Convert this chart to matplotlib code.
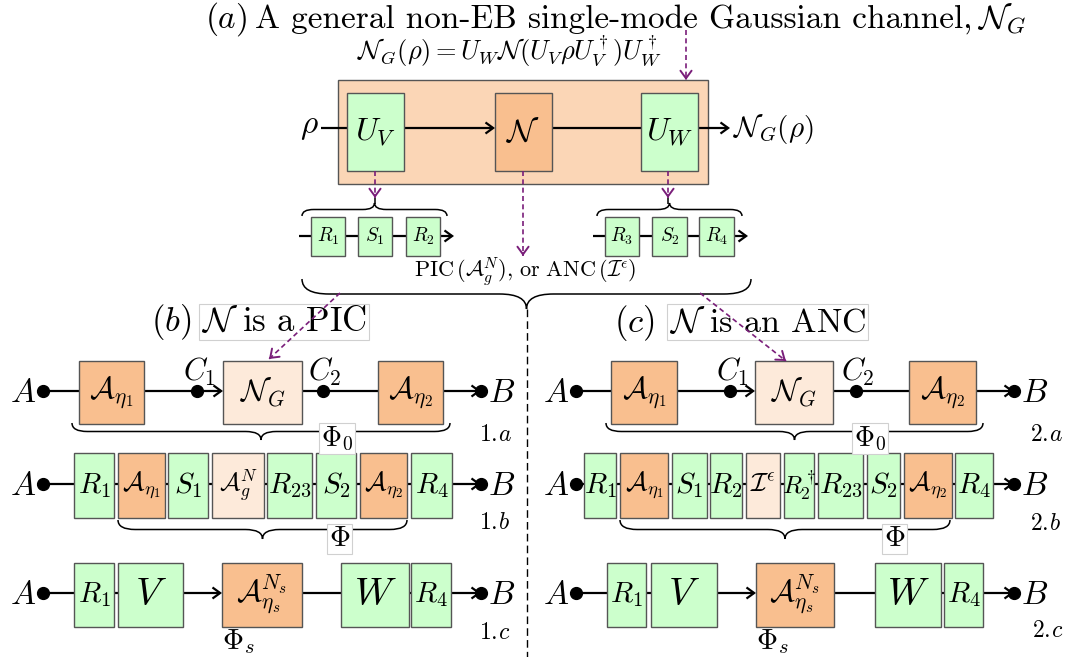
import matplotlib
matplotlib.use('Agg')
import matplotlib.pyplot as plt
from matplotlib.patches import Rectangle, FancyArrowPatch, PathPatch
from matplotlib.path import Path

plt.rcParams['mathtext.fontset'] = 'cm'
plt.rcParams['font.family'] = 'cmr10'
plt.rcParams['axes.formatter.use_mathtext'] = True

# ---------------- text / label data ----------------
title_parts = [r'$(a)$', 'A general non-EB single-mode Gaussian channel,', r'$\mathcal{N}_G$']
formula = r'$\mathcal{N}_G(\rho) = U_W\mathcal{N}(U_V\rho U_V^\dagger)U_W^\dagger$'
top_labels = [r'$U_V$', r'$\mathcal{N}$', r'$U_W$']
top_kinds = ['g', 'o', 'g']
input_label = r'$\rho$'
output_label = r'$\mathcal{N}_G(\rho)$'
sub_left_labels = [r'$R_1$', r'$S_1$', r'$R_2$']
sub_right_labels = [r'$R_3$', r'$S_2$', r'$R_4$']
choice_text = r'$\mathrm{PIC}\,(\mathcal{A}_g^N),\,\mathrm{or\ ANC}\,(\mathcal{I}^\epsilon)$'
panel_tags = [r'$(b)$', r'$(c)$']
panel_titles = [r'$\mathcal{N}$ is a PIC', r'$\mathcal{N}$ is an ANC']

row_a_labels = [r'$\mathcal{A}_{\eta_1}$', r'$\mathcal{N}_G$', r'$\mathcal{A}_{\eta_2}$']
row_a_kinds = ['o', 'l', 'o']
row_b_left_labels = [r'$R_1$', r'$\mathcal{A}_{\eta_1}$', r'$S_1$', r'$\mathcal{A}_g^N$',
                     r'$R_{23}$', r'$S_2$', r'$\mathcal{A}_{\eta_2}$', r'$R_4$']
row_b_left_kinds = ['g', 'o', 'g', 'l', 'g', 'g', 'o', 'g']
row_b_right_labels = [r'$R_1$', r'$\mathcal{A}_{\eta_1}$', r'$S_1$', r'$R_2$', r'$\mathcal{I}^\epsilon$',
                      r'$R_2^\dagger$', r'$R_{23}$', r'$S_2$', r'$\mathcal{A}_{\eta_2}$', r'$R_4$']
row_b_right_kinds = ['g', 'o', 'g', 'g', 'l', 'g', 'g', 'g', 'o', 'g']
row_c_labels = [r'$R_1$', r'$V$', r'$\mathcal{A}_{\eta_s}^{N_s}$', r'$W$', r'$R_4$']
row_c_kinds = ['g', 'g', 'o', 'g', 'g']
brace_labels = [r'$\Phi_0$', r'$\Phi$', r'$\Phi_s$']
row_tags_left = [r'$1.\!a$', r'$1.\!b$', r'$1.\!c$']
row_tags_right = [r'$2.\!a$', r'$2.\!b$', r'$2.\!c$']

# ---------------- layout (pixels) ----------------
W, H = 1075, 657
COLORS = {'g': '#CCFFCC', 'o': '#F9BF8F', 'l': '#FDEADA'}
BIGBOX = '#FBD6B6'
EDGE = '#555555'
PURPLE = '#7A1E7A'

fig = plt.figure(figsize=(W / 100, H / 100), dpi=100)
ax = fig.add_axes([0, 0, 1, 1])
ax.set_xlim(0, W)
ax.set_ylim(H, 0)
ax.axis('off')
renderer = fig.canvas.get_renderer()


def box(x0, x1, y0, y1, label, fc, fs, ec=EDGE, z=3):
    ax.add_patch(Rectangle((x0, y0), x1 - x0, y1 - y0, fc=fc, ec=ec, lw=1.0, zorder=z))
    if label:
        ax.text((x0 + x1) / 2, (y0 + y1) / 2, label, fontsize=fs, ha='center', va='center', zorder=z + 1)


def line(x0, y0, x1, y1, lw=1.6, color='k', z=2):
    ax.plot([x0, x1], [y0, y1], color=color, lw=lw, zorder=z, solid_capstyle='butt')


def arrow(x0, y0, x1, y1, lw=1.6, color='k', z=2):
    ax.add_patch(FancyArrowPatch((x0, y0), (x1, y1), arrowstyle='->,head_length=0.55,head_width=0.4',
                                 mutation_scale=10, lw=lw, color=color, shrinkA=0, shrinkB=0,
                                 zorder=z, joinstyle='miter', capstyle='butt'))


def purple_arrow(x0, y0, x1, y1):
    ax.plot([x0, x1], [y0, y1], color=PURPLE, lw=1.2, ls=(0, (3, 2)), zorder=8)
    dx, dy = x1 - x0, y1 - y0
    n = (dx * dx + dy * dy) ** 0.5
    ax.add_patch(FancyArrowPatch((x1 - dx / n * 3, y1 - dy / n * 3), (x1, y1),
                                 arrowstyle='->,head_length=0.55,head_width=0.4', mutation_scale=10,
                                 lw=1.4, color=PURPLE, shrinkA=0, shrinkB=0, zorder=8))


def dot(x, y):
    ax.plot([x], [y], 'o', ms=8.5, color='k', zorder=5)


def brace(x0, x1, y, h, lw=1.1):
    xm = (x0 + x1) / 2
    a = abs(h) * 0.9
    ym = y + h / 2
    yt = y + h
    verts = [(x0, y), (x0, ym), (x0 + a, ym), (xm - a, ym), (xm, ym), (xm, yt),
             (xm, ym), (xm + a, ym), (x1 - a, ym), (x1, ym), (x1, y)]
    codes = [Path.MOVETO, Path.CURVE3, Path.CURVE3, Path.LINETO, Path.CURVE3, Path.CURVE3,
             Path.CURVE3, Path.CURVE3, Path.LINETO, Path.CURVE3, Path.CURVE3]
    ax.add_patch(PathPatch(Path(verts, codes), fc='none', ec='k', lw=lw, zorder=2))


def label_box(x, y, s, fs, ha='left'):
    ax.text(x, y, s, fontsize=fs, ha=ha, va='baseline', zorder=7,
            bbox=dict(boxstyle='square,pad=0.06', fc='white', ec='#D0D0D0', lw=0.8))


# ---------------- (a) title ----------------
x = 205
for part, gap in zip(title_parts, [8, 4, 0]):
    t = ax.text(x, 28, part, fontsize=24, ha='left', va='baseline')
    x += t.get_window_extent(renderer).width + gap

ax.text(357, 60, formula, fontsize=19, ha='left', va='baseline')
purple_arrow(686, 30, 686, 80)

# big box
box(338, 708, 80, 184, None, BIGBOX, 0, z=1)
top_x = [(347, 404), (495, 552), (641, 698)]
for (x0, x1), lab, k in zip(top_x, top_labels, top_kinds):
    box(x0, x1, 93, 171, lab, COLORS[k], 23)
ly = 128
ax.text(319, 133, input_label, fontsize=24, ha='right', va='baseline')
line(321, ly, 347, ly)
arrow(404, ly, 495, ly)
line(552, ly, 641, ly)
arrow(698, ly, 730, ly)
ax.text(733, 137, output_label, fontsize=21, ha='left', va='baseline')

purple_arrow(375, 171, 375, 198)
purple_arrow(523, 171, 523, 256)
purple_arrow(668, 171, 668, 198)

# sub chains
sub_left_x = [(311, 345), (358, 392), (406, 440)]
sub_right_x = [(605, 639), (652, 687), (699, 734)]
arrow(299, 236, 454, 236)
arrow(593, 236, 748, 236)
for (x0, x1), lab in zip(sub_left_x, sub_left_labels):
    box(x0, x1, 217, 256, lab, COLORS['g'], 14)
for (x0, x1), lab in zip(sub_right_x, sub_right_labels):
    box(x0, x1, 217, 256, lab, COLORS['g'], 14)
brace(302, 447, 216, -13)
brace(597, 742, 216, -13)
line(375, 198, 375, 204, lw=1.1)
line(668, 198, 668, 204, lw=1.1)
ax.text(525, 277, choice_text, fontsize=16, ha='center', va='baseline')
brace(302, 751, 279, 30)

# divider
ax.plot([527, 527], [309, 657], color='k', lw=1.0, ls=(0, (5.5, 3)), zorder=1)

# panel titles
ax.text(192, 331, panel_tags[0], fontsize=25, ha='right', va='baseline')
label_box(201, 331, panel_titles[0], 25)
ax.text(655, 332, panel_tags[1], fontsize=25, ha='right', va='baseline')
label_box(669, 332, panel_titles[1], 24.5)
purple_arrow(340, 293, 269, 359)
purple_arrow(700, 293, 786, 361)


# ---------------- row a ----------------
def row_a(dotA, boxes, c1, c2, dotB, brace_x, phix):
    y = 391
    ax.text(dotA - 7, y + 11, r'$A$', fontsize=24, ha='right', va='baseline')
    ax.text(dotB + 7, y + 11, r'$B$', fontsize=24, ha='left', va='baseline')
    (a0, a1), (n0, n1), (b0, b1) = boxes
    line(dotA, y, a0, y)
    line(a1, y, c1, y)
    arrow(c1, y, n0, y)
    line(n1, y, b0, y)
    arrow(b1, y, dotB, y)
    for (x0, x1), lab, k in zip(boxes, row_a_labels, row_a_kinds):
        box(x0, x1, 361, 424, lab, COLORS[k], 22)
    for xx in (dotA, c1, c2, dotB):
        dot(xx, y)
    ax.text(c1 + 2, 381, r'$C_1$', fontsize=22, ha='center', va='baseline')
    ax.text(c2 + 2, 381, r'$C_2$', fontsize=22, ha='center', va='baseline')
    brace(brace_x[0], brace_x[1], 423, 17)
    label_box(phix, 446, brace_labels[0], 20)


row_a(43, [(79, 144), (223, 302), (378, 443)], 197, 323, 481, (72, 450), 321)
ax.text(479, 441, row_tags_left[0], fontsize=17, ha='left', va='baseline')
row_a(576, [(611, 677), (755, 833), (909, 976)], 730, 856, 1014, (606, 983), 854)
ax.text(1030, 441, row_tags_right[0], fontsize=17, ha='left', va='baseline')

# ---------------- row b ----------------
yb = 484
b_left_x = [(74, 114), (118, 165), (168, 208), (212, 264), (267, 312), (316, 356), (360, 407), (411, 452)]
b_right_x = [(584, 616), (620, 668), (672, 707), (710, 742), (746, 780), (784, 814), (818, 863),
             (867, 900), (904, 952), (955, 993)]


def chain(xs, labels, kinds, y, y0, y1, dotA, dotB, sizes):
    ax.text(dotA - 7, y + 11, r'$A$', fontsize=24, ha='right', va='baseline')
    ax.text(dotB + 7, y + 11, r'$B$', fontsize=24, ha='left', va='baseline')
    line(dotA, y, xs[-1][0], y, z=1)
    arrow(xs[-1][1], y, dotB, y)
    for (x0, x1), lab, k, fs in zip(xs, labels, kinds, sizes):
        box(x0, x1, y0, y1, lab, COLORS[k], fs)
    dot(dotA, y)
    dot(dotB, y)


chain(b_left_x, row_b_left_labels, row_b_left_kinds, yb, 453, 518, 43, 481,
      [21, 19, 21, 18, 21, 21, 19, 21])
brace(118, 407, 520, 19)
label_box(329, 546, brace_labels[1], 21)
ax.text(479, 529, row_tags_left[1], fontsize=17, ha='left', va='baseline')

chain(b_right_x, row_b_right_labels, row_b_right_kinds, yb, 453, 518, 576, 1014,
      [21, 19, 21, 21, 19, 18, 21, 21, 19, 21])
brace(620, 950, 520, 19)
label_box(884, 546, brace_labels[1], 21)
ax.text(1030, 530, row_tags_right[1], fontsize=17, ha='left', va='baseline')

# ---------------- row c ----------------
yc = 593


def row_c(xs, dotA, dotB):
    ax.text(dotA - 7, yc + 11, r'$A$', fontsize=24, ha='right', va='baseline')
    ax.text(dotB + 7, yc + 11, r'$B$', fontsize=24, ha='left', va='baseline')
    (r0, r1), (v0, v1), (a0, a1), (w0, w1), (q0, q1) = xs
    line(dotA, yc, v0, yc, z=1)
    arrow(v1, yc, a0, yc)
    line(a1, yc, q0, yc, z=1)
    arrow(q1, yc, dotB, yc)
    for (x0, x1), lab, k, fs in zip(xs, row_c_labels, row_c_kinds, [21, 28, 22, 28, 21]):
        box(x0, x1, 563, 627, lab, COLORS[k], fs)
    dot(dotA, yc)
    dot(dotB, yc)
    ax.text(a0, 649, brace_labels[2], fontsize=21, ha='left', va='baseline')


row_c([(74, 114), (118, 183), (222, 302), (341, 409), (411, 451)], 43, 481)
ax.text(479, 639, row_tags_left[2], fontsize=17, ha='left', va='baseline')
row_c([(607, 646), (651, 717), (756, 834), (875, 941), (944, 983)], 576, 1014)
ax.text(1032, 637, row_tags_right[2], fontsize=17, ha='left', va='baseline')

fig.savefig('out.png', dpi=100, facecolor='white')
